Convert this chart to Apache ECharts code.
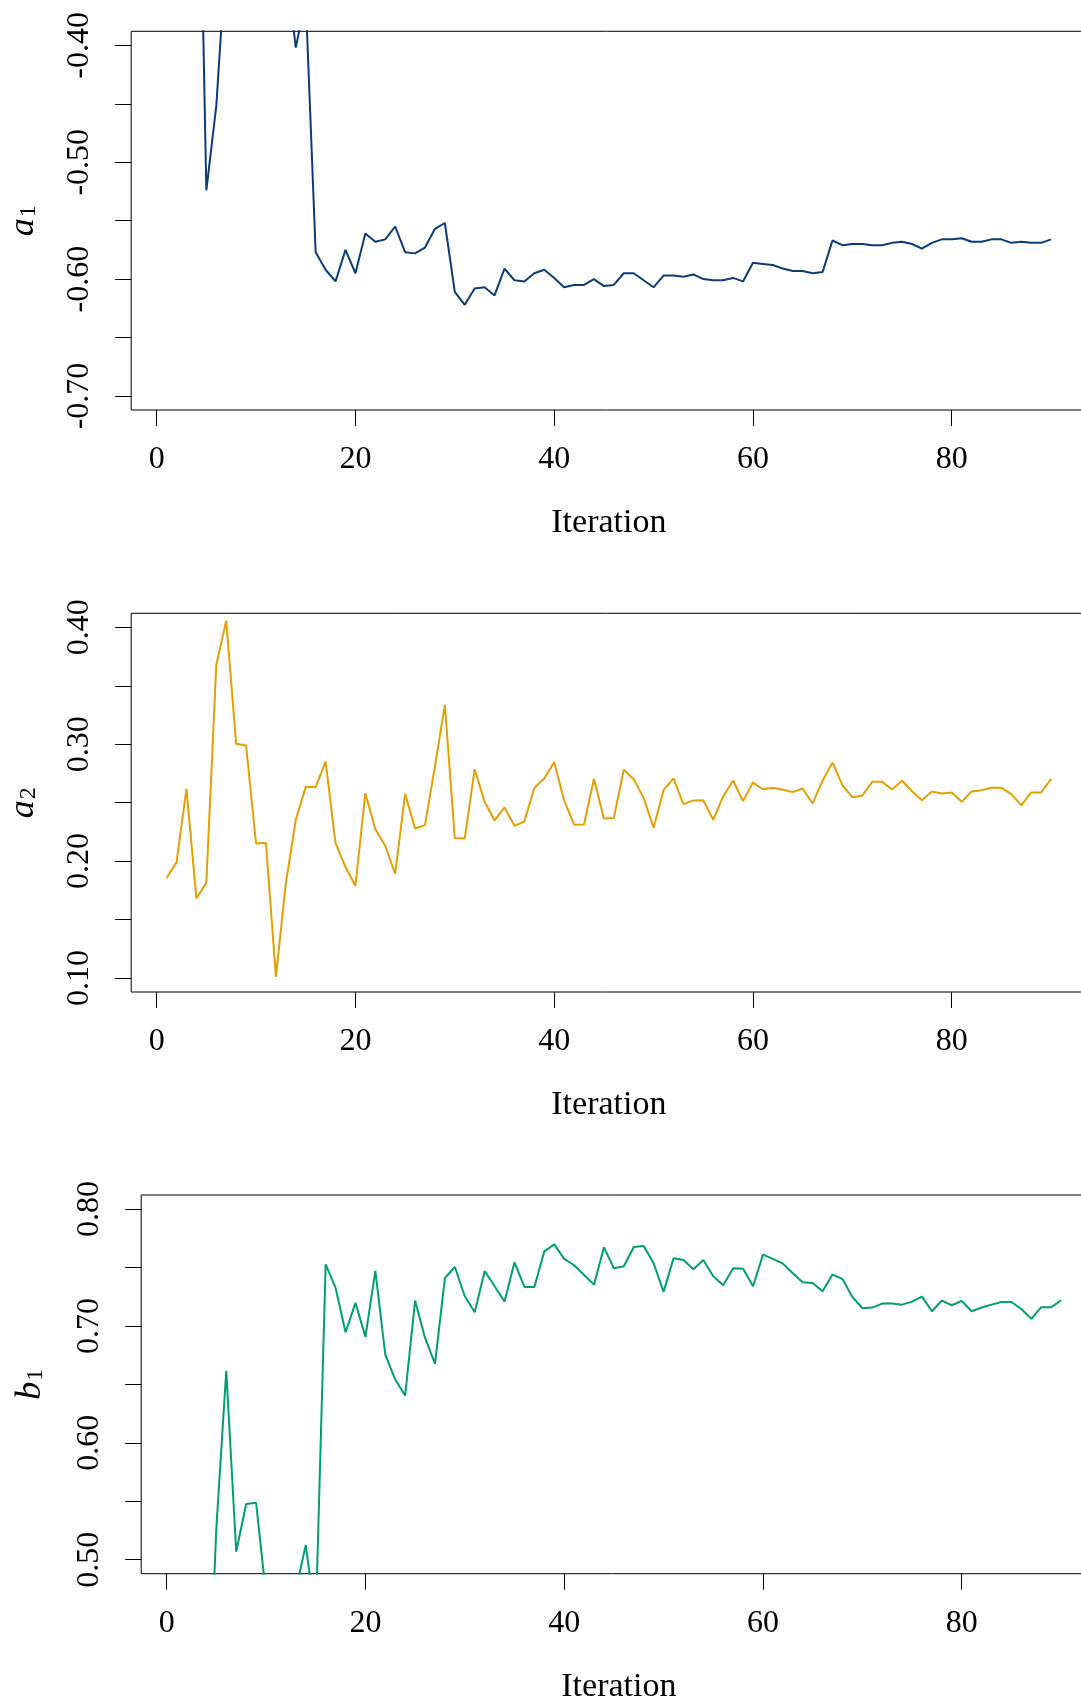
<!DOCTYPE html>
<html>
<head>
<meta charset="utf-8">
<script src="https://cdn.jsdelivr.net/npm/echarts@6/dist/echarts.min.js"></script>
<style>
html,body{margin:0;padding:0;background:#fff;}
#chart{width:1081px;height:1700px;}
</style>
</head>
<body>
<div id="chart"></div>
<script>
const iterations = [1,2,3,4,5,6,7,8,9,10,11,12,13,14,15,16,17,18,19,20,21,22,23,24,25,26,27,28,29,30,
31,32,33,34,35,36,37,38,39,40,41,42,43,44,45,46,47,48,49,50,51,52,53,54,55,56,57,58,59,60,
61,62,63,64,65,66,67,68,69,70,71,72,73,74,75,76,77,78,79,80,81,82,83,84,85,86,87,88,89,90];

const a1 = [-0.05,-0.15,-0.22,-0.087,-0.524,-0.452,-0.320,-0.28,-0.25,-0.30,-0.27,-0.31,-0.330,-0.402,-0.360,
-0.577,-0.592,-0.602,-0.575,-0.595,-0.561,-0.568,-0.566,-0.555,-0.577,-0.578,-0.573,-0.557,-0.552,-0.611,
-0.622,-0.608,-0.607,-0.614,-0.591,-0.601,-0.602,-0.595,-0.592,-0.599,
-0.607,-0.605,-0.605,-0.600,-0.606,-0.605,-0.595,-0.595,-0.601,-0.607,
-0.597,-0.597,-0.598,-0.596,-0.600,-0.601,-0.601,-0.599,-0.602,-0.586,
-0.587,-0.588,-0.591,-0.593,-0.593,-0.595,-0.594,-0.567,-0.571,-0.570,
-0.570,-0.571,-0.571,-0.569,-0.568,-0.570,-0.574,-0.569,-0.566,-0.566,
-0.565,-0.568,-0.568,-0.566,-0.566,-0.569,-0.568,-0.569,-0.569,-0.566];

const a2 = [0.1855,0.1989,0.2618,0.1681,0.1812,0.3678,0.4057,0.3003,0.2989,0.2151,
0.2154,0.1009,0.1812,0.2353,0.2635,0.2632,0.2852,0.2154,0.1949,0.1789,
0.2581,0.2274,0.2131,0.1892,0.2575,0.2279,0.2308,0.2809,0.3336,0.2197,
0.2194,0.2786,0.2507,0.2348,0.2459,0.2302,0.2339,0.2627,0.2707,0.2846,
0.2519,0.2311,0.2313,0.2704,0.2365,0.2368,0.2781,0.2701,0.2541,0.2285,
0.2607,0.2707,0.2487,0.2519,0.2521,0.2353,0.2553,0.2689,0.2513,0.2672,
0.2615,0.2627,0.2610,0.2590,0.2621,0.2493,0.2687,0.2843,0.2650,0.2547,
0.2561,0.2678,0.2678,0.2613,0.2687,0.2598,0.2521,0.2595,0.2578,0.2587,
0.2507,0.2595,0.2607,0.2627,0.2627,0.2573,0.2476,0.2587,0.2587,0.2704];

const b1 = [0.30,0.35,0.40,0.322,0.527,0.6615,0.5068,0.5476,0.5487,0.470,
0.42,0.40,0.474,0.5125,0.448,0.7527,0.7325,0.6946,0.7197,0.6906,
0.7470,0.6755,0.6541,0.6405,0.7217,0.6897,0.6678,0.7410,0.7504,0.7254,
0.7117,0.7470,0.7339,0.7208,0.7544,0.7333,0.7333,0.7638,0.7698,0.7573,
0.7519,0.7436,0.7353,0.7672,0.7493,0.7510,0.7675,0.7684,0.7536,0.7291,
0.7578,0.7564,0.7484,0.7564,0.7425,0.7348,0.7493,0.7490,0.7339,0.7610,
0.7573,0.7533,0.7450,0.7373,0.7368,0.7296,0.7439,0.7402,0.7248,0.7151,
0.7157,0.7191,0.7191,0.7182,0.7208,0.7251,0.7125,0.7217,0.7177,0.7214,
0.7125,0.7157,0.7182,0.7205,0.7205,0.7145,0.7060,0.7160,0.7160,0.7219];

const xTicks = [0, 20, 40, 60, 80];
const a1Ticks = [-0.70,-0.65,-0.60,-0.55,-0.50,-0.45,-0.40];
const a1Labels = [-0.70,-0.60,-0.50,-0.40];
const a2Ticks = [0.10,0.15,0.20,0.25,0.30,0.35,0.40];
const a2Labels = [0.10,0.20,0.30,0.40];
const b1Ticks = [0.50,0.55,0.60,0.65,0.70,0.75,0.80];
const b1Labels = [0.50,0.60,0.70,0.80];

const FONT = 'Liberation Serif';
const panels = [
  {left:131.2, top:31.3, y:a1, ticks:a1Ticks, labels:a1Labels, lim:[-0.70,-0.40], sub:'1', sym:'a', color:'#0a3d78', gap:90},
  {left:131.2, top:613.3, y:a2, ticks:a2Ticks, labels:a2Labels, lim:[0.10,0.40], sub:'2', sym:'a', color:'#E69F00', gap:90},
  {left:141.2, top:1195.0, y:b1, ticks:b1Ticks, labels:b1Labels, lim:[0.50,0.80], sub:'1', sym:'b', color:'#009E73', gap:93}
];
const xmin = 1 - 0.04*89, xmax = 90 + 0.04*89;

const grid = [], xAxis = [], yAxis = [], series = [];
panels.forEach((p, i) => {
  const span = p.lim[1]-p.lim[0];
  grid.push({left:p.left, top:p.top, width:955.3, height:378.7, show:true, outerBoundsMode:'none',
    containLabel:false, borderColor:'#000', borderWidth:1, backgroundColor:'transparent'});
  xAxis.push({type:'value', gridIndex:i, min:xmin, max:xmax,
    axisLine:{show:false, onZero:false}, splitLine:{show:false},
    axisTick:{show:true, length:16, customValues:xTicks, lineStyle:{color:'#000', width:1}},
    axisLabel:{customValues:xTicks, margin:34, color:'#000', fontFamily:FONT, fontSize:32},
    name:'Iteration', nameLocation:'middle', nameGap:96,
    nameTextStyle:{color:'#000', fontFamily:FONT, fontSize:34}});
  yAxis.push({type:'value', gridIndex:i, min:p.lim[0]-0.04*span, max:p.lim[1]+0.04*span,
    axisLine:{show:false, onZero:false}, splitLine:{show:false},
    axisTick:{show:true, length:16, customValues:p.ticks, lineStyle:{color:'#000', width:1}},
    axisLabel:{customValues:p.labels, rotate:90, margin:36, color:'#000', fontFamily:FONT, fontSize:32,
      formatter:(v)=>Number(v).toFixed(2)},
    name:'{a|'+p.sym+'}{s|'+p.sub+'}', nameLocation:'middle', nameRotate:90, nameGap:p.gap,
    nameTextStyle:{color:'#000', rich:{
      a:{fontFamily:FONT, fontStyle:'italic', fontSize:36, lineHeight:36, color:'#000', verticalAlign:'top'},
      s:{fontFamily:FONT, fontSize:24, lineHeight:24, color:'#000', verticalAlign:'bottom', padding:[14,0,0,1]}
    }}});
  series.push({type:'line', xAxisIndex:i, yAxisIndex:i, showSymbol:false, symbol:'none', clip:true,
    lineStyle:{color:p.color, width:2}, itemStyle:{color:p.color},
    data: iterations.map((x, k) => [x, p.y[k]])});
});

const chart = echarts.init(document.getElementById('chart'), null, {renderer:'canvas', devicePixelRatio:1});
chart.setOption({animation:false, backgroundColor:'#fff', grid, xAxis, yAxis, series});
</script>
</body>
</html>
